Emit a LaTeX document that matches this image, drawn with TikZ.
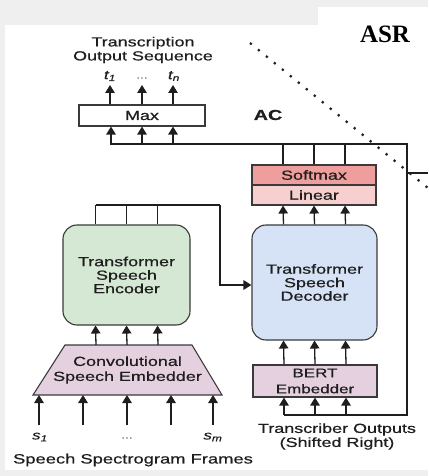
\documentclass[tikz,border=0pt]{standalone}
\usepackage{fontspec}
\usepackage{graphicx}
\setmainfont{Liberation Sans}[FakeBold=0.5]
\newfontfamily\titleserif{Liberation Serif}
\usetikzlibrary{arrows.meta,calc}

% horizontally widened text
\newcommand{\wtext}[1]{\scalebox{1.36}[1]{#1}}

\definecolor{pagegray}{HTML}{EFEFEF}
\definecolor{encfill}{HTML}{D5E8D3}
\definecolor{decfill}{HTML}{D6E3F6}
\definecolor{embfill}{HTML}{E5D0E0}
\definecolor{softfill}{HTML}{EE9E9C}
\definecolor{linfill}{HTML}{F7CFCE}
\definecolor{ink}{HTML}{1E1E1E}
\definecolor{edge}{HTML}{3A3A3A}

\begin{document}
\begin{tikzpicture}[x=1pt,y=-1pt,
  line width=1.2pt,
  wire/.style={draw=ink, line width=1.3pt},
  arr/.style={wire, -{Triangle[width=9.5pt,length=8pt]}},
  block/.style={draw=edge, line width=1.1pt, inner sep=0pt, text=ink,
    font=\fontsize{13.2}{14}\selectfont, align=center},
  label/.style={inner sep=0pt, text=ink, font=\fontsize{13.2}{14}\selectfont, align=center},
  sym/.style={inner sep=0pt, text=ink, font=\fontsize{12.5}{13}\selectfont\itshape}
]
\useasboundingbox (0,0) rectangle (428,476);
\fill[pagegray] (0,0) rectangle (428,476);
\fill[white] (5,25) rectangle (428,470);
\fill[white] (318,7) rectangle (428,25);

% ---- blocks ----
\node[block, minimum width=126, minimum height=21] (max) at (142,115.5) {\wtext{Max}};
\node[block, fill=softfill, minimum width=124, minimum height=20] (soft) at (314,175) {\wtext{Softmax}};
\node[block, fill=linfill, minimum width=124, minimum height=20] (lin) at (314,195) {\wtext{Linear}};
\node[block, fill=encfill, rounded corners=14pt, minimum width=127, minimum height=100] (enc) at (126.5,275)
  {\wtext{Transformer}\\[-0.5pt]\wtext{Speech}\\[-0.5pt]\wtext{Encoder}};
\node[block, fill=decfill, rounded corners=14pt, minimum width=125, minimum height=115] (dec) at (314.5,282.5)
  {\wtext{Transformer}\\[-0.5pt]\wtext{Speech}\\[-0.5pt]\wtext{Decoder}};
\node[block, fill=embfill, minimum width=124, minimum height=32, font=\fontsize{12.5}{16}\selectfont] (bert) at (315,381)
  {\wtext{BERT}\\\wtext{Embedder}};

% convolutional embedder (trapezoid)
\coordinate (convtop) at (127,345);
\coordinate (convbot) at (127,395);
\filldraw[fill=embfill, draw=edge, line width=1.1pt] (65,345) -- (192,345) -- (222,395) -- (33,395) -- cycle;
\node[label] (conv) at (127.5,370) {\wtext{Convolutional}\\[1pt]\wtext{Speech Embedder}};

% ---- texts ----
\node[label] (outtitle) at (143,50) {\wtext{Transcription}\\\wtext{Output Sequence}};
\node[sym] (t1) at (110,76) {\wtext{t\textsubscript{1}}};
\node[sym, text=gray, font=\fontsize{10}{11}\selectfont] (tdots) at (142,78) {\wtext{...}};
\node[sym] (tn) at (174,76) {\wtext{t\textsubscript{n}}};
\node[label, font=\fontsize{14.5}{16}\selectfont\bfseries] (ac) at (268,115) {\wtext{AC}};
\node[inner sep=0pt, text=black, font=\fontsize{25}{28}\selectfont\titleserif\bfseries] (asr) at (385,34) {ASR};
\node[sym] (s1) at (40,437) {\wtext{s\textsubscript{1}}};
\node[sym, text=gray, font=\fontsize{10}{11}\selectfont] (sdots) at (127,438) {\wtext{...}};
\node[sym] (sm) at (213,437) {\wtext{s\textsubscript{m}}};
\node[label, font=\fontsize{13.5}{15}\selectfont] (frames) at (133,460) {\wtext{Speech Spectrogram Frames}};
\node[label] (shifted) at (337,436.5) {\wtext{Transcriber Outputs}\\\wtext{(Shifted Right)}};

% ---- wiring coordinates ----
\coordinate (busL) at (110,144);
\coordinate (busR) at (407,144);
\coordinate (loopR) at (407,415);
\coordinate (encbus) at (220,205);
\coordinate (stubA) at (407,173);
\coordinate (stubB) at (428,173);
\coordinate (out1) at (110,85);
\coordinate (out2) at (142,85);
\coordinate (out3) at (173,85);
\coordinate (in1) at (39,425);
\coordinate (in2) at (83,425);
\coordinate (in3) at (127,425);
\coordinate (in4) at (171,425);
\coordinate (in5) at (213,425);

% output arrows above Max
\foreach \p in {out1,out2,out3}
  \draw[arr] (max.north -| \p) -- (\p);

% shared output bus and feedback loop
\draw[wire] (busL) -- (busR) -- (loopR) -- ([xshift=-31]bert.south |- loopR);
\draw[wire] (stubA) -- (stubB);

\foreach \d in {-31,0,31} {
  \draw[arr] ([xshift=\d]max.south |- busL) -- ([xshift=\d]max.south);
  \draw[wire] ([xshift=\d]soft.north) -- ([xshift=\d]soft.north |- busL);
  \draw[arr] ([xshift=\d]dec.north) -- ([xshift=\d]lin.south);
  \draw[arr] ([xshift=\d]bert.north) -- ([xshift=\d]dec.south);
  \draw[arr] ([xshift=\d]bert.south |- loopR) -- ([xshift=\d]bert.south);
  \draw[arr] ([xshift=\d]convtop) -- ([xshift=\d]enc.south);
  \draw[wire] ([xshift=\d]enc.north) -- ([xshift=\d]enc.north |- encbus);
}

% encoder memory into decoder
\draw[wire] ([xshift=-31]enc.north |- encbus) -- (encbus);
\draw[arr] (encbus) |- ([yshift=-2.5]dec.west);

% spectrogram frames into the embedder
\foreach \p in {in1,in2,in3,in4,in5}
  \draw[arr] (\p) -- (\p |- convbot);

% dotted divider
\draw[ink, line width=2.2pt, dash pattern=on 2.2pt off 8.1pt] (250,43) -- (428,188);
\end{tikzpicture}
\end{document}
